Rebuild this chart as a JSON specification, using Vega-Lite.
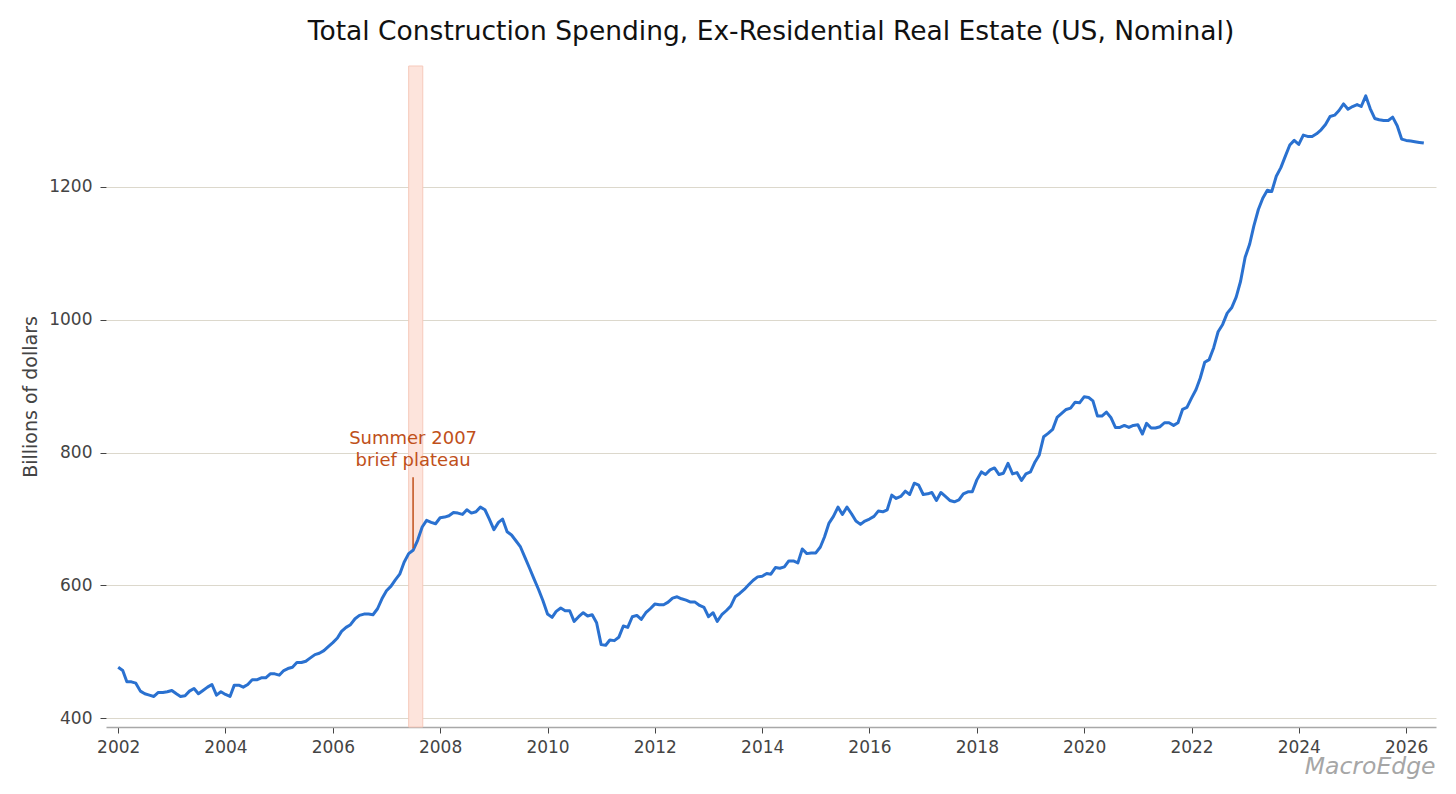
{
  "$schema": "https://vega.github.io/schema/vega-lite/v6.json",
  "description": "Total construction spending excluding residential real estate, US nominal, monthly 2002-2026.",
  "width": 1330,
  "height": 661,
  "autosize": {"type": "none"},
  "padding": {"left": 106, "top": 66, "right": 20, "bottom": 67},
  "background": "white",
  "title": {
    "text": "Total Construction Spending, Ex-Residential Real Estate (US, Nominal)",
    "fontSize": 26.5,
    "fontWeight": "normal",
    "color": "#111111",
    "anchor": "middle",
    "offset": 20
  },
  "datasets": {
    "spending": [
      {"date": "2002-01-01", "value": 477}, {"date": "2002-02-01", "value": 472}, {"date": "2002-03-01", "value": 455}, {"date": "2002-04-01", "value": 455},
      {"date": "2002-05-01", "value": 453}, {"date": "2002-06-01", "value": 441}, {"date": "2002-07-01", "value": 437}, {"date": "2002-08-01", "value": 435},
      {"date": "2002-09-01", "value": 433}, {"date": "2002-10-01", "value": 439}, {"date": "2002-11-01", "value": 439}, {"date": "2002-12-01", "value": 440},
      {"date": "2003-01-01", "value": 442}, {"date": "2003-02-01", "value": 437}, {"date": "2003-03-01", "value": 433}, {"date": "2003-04-01", "value": 434},
      {"date": "2003-05-01", "value": 441}, {"date": "2003-06-01", "value": 445}, {"date": "2003-07-01", "value": 437}, {"date": "2003-08-01", "value": 442},
      {"date": "2003-09-01", "value": 447}, {"date": "2003-10-01", "value": 451}, {"date": "2003-11-01", "value": 435}, {"date": "2003-12-01", "value": 440},
      {"date": "2004-01-01", "value": 436}, {"date": "2004-02-01", "value": 433}, {"date": "2004-03-01", "value": 450}, {"date": "2004-04-01", "value": 450},
      {"date": "2004-05-01", "value": 447}, {"date": "2004-06-01", "value": 451}, {"date": "2004-07-01", "value": 458}, {"date": "2004-08-01", "value": 458},
      {"date": "2004-09-01", "value": 461}, {"date": "2004-10-01", "value": 461}, {"date": "2004-11-01", "value": 467}, {"date": "2004-12-01", "value": 467},
      {"date": "2005-01-01", "value": 465}, {"date": "2005-02-01", "value": 472}, {"date": "2005-03-01", "value": 475}, {"date": "2005-04-01", "value": 477},
      {"date": "2005-05-01", "value": 484}, {"date": "2005-06-01", "value": 484}, {"date": "2005-07-01", "value": 486}, {"date": "2005-08-01", "value": 491},
      {"date": "2005-09-01", "value": 496}, {"date": "2005-10-01", "value": 498}, {"date": "2005-11-01", "value": 502}, {"date": "2005-12-01", "value": 508},
      {"date": "2006-01-01", "value": 514}, {"date": "2006-02-01", "value": 521}, {"date": "2006-03-01", "value": 531}, {"date": "2006-04-01", "value": 537},
      {"date": "2006-05-01", "value": 541}, {"date": "2006-06-01", "value": 550}, {"date": "2006-07-01", "value": 555}, {"date": "2006-08-01", "value": 557},
      {"date": "2006-09-01", "value": 557}, {"date": "2006-10-01", "value": 556}, {"date": "2006-11-01", "value": 565}, {"date": "2006-12-01", "value": 580},
      {"date": "2007-01-01", "value": 592}, {"date": "2007-02-01", "value": 599}, {"date": "2007-03-01", "value": 608}, {"date": "2007-04-01", "value": 617},
      {"date": "2007-05-01", "value": 635}, {"date": "2007-06-01", "value": 648}, {"date": "2007-07-01", "value": 653}, {"date": "2007-08-01", "value": 668},
      {"date": "2007-09-01", "value": 688}, {"date": "2007-10-01", "value": 698}, {"date": "2007-11-01", "value": 695}, {"date": "2007-12-01", "value": 693},
      {"date": "2008-01-01", "value": 702}, {"date": "2008-02-01", "value": 703}, {"date": "2008-03-01", "value": 705}, {"date": "2008-04-01", "value": 710},
      {"date": "2008-05-01", "value": 709}, {"date": "2008-06-01", "value": 707}, {"date": "2008-07-01", "value": 714}, {"date": "2008-08-01", "value": 709},
      {"date": "2008-09-01", "value": 711}, {"date": "2008-10-01", "value": 718}, {"date": "2008-11-01", "value": 714}, {"date": "2008-12-01", "value": 700},
      {"date": "2009-01-01", "value": 684}, {"date": "2009-02-01", "value": 695}, {"date": "2009-03-01", "value": 700}, {"date": "2009-04-01", "value": 681},
      {"date": "2009-05-01", "value": 676}, {"date": "2009-06-01", "value": 667}, {"date": "2009-07-01", "value": 658}, {"date": "2009-08-01", "value": 642},
      {"date": "2009-09-01", "value": 626}, {"date": "2009-10-01", "value": 610}, {"date": "2009-11-01", "value": 594}, {"date": "2009-12-01", "value": 577},
      {"date": "2010-01-01", "value": 557}, {"date": "2010-02-01", "value": 552}, {"date": "2010-03-01", "value": 561}, {"date": "2010-04-01", "value": 566},
      {"date": "2010-05-01", "value": 562}, {"date": "2010-06-01", "value": 562}, {"date": "2010-07-01", "value": 546}, {"date": "2010-08-01", "value": 553},
      {"date": "2010-09-01", "value": 559}, {"date": "2010-10-01", "value": 554}, {"date": "2010-11-01", "value": 556}, {"date": "2010-12-01", "value": 544},
      {"date": "2011-01-01", "value": 511}, {"date": "2011-02-01", "value": 510}, {"date": "2011-03-01", "value": 518}, {"date": "2011-04-01", "value": 517},
      {"date": "2011-05-01", "value": 522}, {"date": "2011-06-01", "value": 539}, {"date": "2011-07-01", "value": 537}, {"date": "2011-08-01", "value": 553},
      {"date": "2011-09-01", "value": 555}, {"date": "2011-10-01", "value": 549}, {"date": "2011-11-01", "value": 559}, {"date": "2011-12-01", "value": 565},
      {"date": "2012-01-01", "value": 572}, {"date": "2012-02-01", "value": 571}, {"date": "2012-03-01", "value": 571}, {"date": "2012-04-01", "value": 575},
      {"date": "2012-05-01", "value": 581}, {"date": "2012-06-01", "value": 583}, {"date": "2012-07-01", "value": 580}, {"date": "2012-08-01", "value": 578},
      {"date": "2012-09-01", "value": 575}, {"date": "2012-10-01", "value": 575}, {"date": "2012-11-01", "value": 570}, {"date": "2012-12-01", "value": 567},
      {"date": "2013-01-01", "value": 553}, {"date": "2013-02-01", "value": 559}, {"date": "2013-03-01", "value": 546}, {"date": "2013-04-01", "value": 556},
      {"date": "2013-05-01", "value": 562}, {"date": "2013-06-01", "value": 569}, {"date": "2013-07-01", "value": 583}, {"date": "2013-08-01", "value": 588},
      {"date": "2013-09-01", "value": 594}, {"date": "2013-10-01", "value": 601}, {"date": "2013-11-01", "value": 608}, {"date": "2013-12-01", "value": 613},
      {"date": "2014-01-01", "value": 614}, {"date": "2014-02-01", "value": 618}, {"date": "2014-03-01", "value": 617}, {"date": "2014-04-01", "value": 627},
      {"date": "2014-05-01", "value": 626}, {"date": "2014-06-01", "value": 628}, {"date": "2014-07-01", "value": 637}, {"date": "2014-08-01", "value": 637},
      {"date": "2014-09-01", "value": 634}, {"date": "2014-10-01", "value": 655}, {"date": "2014-11-01", "value": 648}, {"date": "2014-12-01", "value": 649},
      {"date": "2015-01-01", "value": 649}, {"date": "2015-02-01", "value": 658}, {"date": "2015-03-01", "value": 673}, {"date": "2015-04-01", "value": 694},
      {"date": "2015-05-01", "value": 704}, {"date": "2015-06-01", "value": 718}, {"date": "2015-07-01", "value": 707}, {"date": "2015-08-01", "value": 718},
      {"date": "2015-09-01", "value": 708}, {"date": "2015-10-01", "value": 697}, {"date": "2015-11-01", "value": 692}, {"date": "2015-12-01", "value": 697},
      {"date": "2016-01-01", "value": 700}, {"date": "2016-02-01", "value": 704}, {"date": "2016-03-01", "value": 712}, {"date": "2016-04-01", "value": 711},
      {"date": "2016-05-01", "value": 714}, {"date": "2016-06-01", "value": 736}, {"date": "2016-07-01", "value": 731}, {"date": "2016-08-01", "value": 734},
      {"date": "2016-09-01", "value": 742}, {"date": "2016-10-01", "value": 737}, {"date": "2016-11-01", "value": 754}, {"date": "2016-12-01", "value": 751},
      {"date": "2017-01-01", "value": 737}, {"date": "2017-02-01", "value": 738}, {"date": "2017-03-01", "value": 740}, {"date": "2017-04-01", "value": 728},
      {"date": "2017-05-01", "value": 740}, {"date": "2017-06-01", "value": 734}, {"date": "2017-07-01", "value": 728}, {"date": "2017-08-01", "value": 726},
      {"date": "2017-09-01", "value": 729}, {"date": "2017-10-01", "value": 738}, {"date": "2017-11-01", "value": 741}, {"date": "2017-12-01", "value": 741},
      {"date": "2018-01-01", "value": 759}, {"date": "2018-02-01", "value": 771}, {"date": "2018-03-01", "value": 767}, {"date": "2018-04-01", "value": 774},
      {"date": "2018-05-01", "value": 777}, {"date": "2018-06-01", "value": 767}, {"date": "2018-07-01", "value": 769}, {"date": "2018-08-01", "value": 784},
      {"date": "2018-09-01", "value": 768}, {"date": "2018-10-01", "value": 770}, {"date": "2018-11-01", "value": 758}, {"date": "2018-12-01", "value": 768},
      {"date": "2019-01-01", "value": 771}, {"date": "2019-02-01", "value": 786}, {"date": "2019-03-01", "value": 796}, {"date": "2019-04-01", "value": 824},
      {"date": "2019-05-01", "value": 829}, {"date": "2019-06-01", "value": 835}, {"date": "2019-07-01", "value": 853}, {"date": "2019-08-01", "value": 859},
      {"date": "2019-09-01", "value": 865}, {"date": "2019-10-01", "value": 867}, {"date": "2019-11-01", "value": 876}, {"date": "2019-12-01", "value": 875},
      {"date": "2020-01-01", "value": 884}, {"date": "2020-02-01", "value": 883}, {"date": "2020-03-01", "value": 878}, {"date": "2020-04-01", "value": 855},
      {"date": "2020-05-01", "value": 855}, {"date": "2020-06-01", "value": 861}, {"date": "2020-07-01", "value": 853}, {"date": "2020-08-01", "value": 838},
      {"date": "2020-09-01", "value": 838}, {"date": "2020-10-01", "value": 841}, {"date": "2020-11-01", "value": 838}, {"date": "2020-12-01", "value": 841},
      {"date": "2021-01-01", "value": 842}, {"date": "2021-02-01", "value": 828}, {"date": "2021-03-01", "value": 844}, {"date": "2021-04-01", "value": 837},
      {"date": "2021-05-01", "value": 837}, {"date": "2021-06-01", "value": 839}, {"date": "2021-07-01", "value": 845}, {"date": "2021-08-01", "value": 845},
      {"date": "2021-09-01", "value": 841}, {"date": "2021-10-01", "value": 845}, {"date": "2021-11-01", "value": 865}, {"date": "2021-12-01", "value": 868},
      {"date": "2022-01-01", "value": 882}, {"date": "2022-02-01", "value": 895}, {"date": "2022-03-01", "value": 912}, {"date": "2022-04-01", "value": 936},
      {"date": "2022-05-01", "value": 940}, {"date": "2022-06-01", "value": 958}, {"date": "2022-07-01", "value": 982}, {"date": "2022-08-01", "value": 993},
      {"date": "2022-09-01", "value": 1010}, {"date": "2022-10-01", "value": 1018}, {"date": "2022-11-01", "value": 1034}, {"date": "2022-12-01", "value": 1058},
      {"date": "2023-01-01", "value": 1094}, {"date": "2023-02-01", "value": 1114}, {"date": "2023-03-01", "value": 1141}, {"date": "2023-04-01", "value": 1166},
      {"date": "2023-05-01", "value": 1183}, {"date": "2023-06-01", "value": 1195}, {"date": "2023-07-01", "value": 1193}, {"date": "2023-08-01", "value": 1216},
      {"date": "2023-09-01", "value": 1229}, {"date": "2023-10-01", "value": 1246}, {"date": "2023-11-01", "value": 1263}, {"date": "2023-12-01", "value": 1270},
      {"date": "2024-01-01", "value": 1264}, {"date": "2024-02-01", "value": 1278}, {"date": "2024-03-01", "value": 1276}, {"date": "2024-04-01", "value": 1276},
      {"date": "2024-05-01", "value": 1280}, {"date": "2024-06-01", "value": 1286}, {"date": "2024-07-01", "value": 1294}, {"date": "2024-08-01", "value": 1306},
      {"date": "2024-09-01", "value": 1308}, {"date": "2024-10-01", "value": 1315}, {"date": "2024-11-01", "value": 1325}, {"date": "2024-12-01", "value": 1317},
      {"date": "2025-01-01", "value": 1321}, {"date": "2025-02-01", "value": 1324}, {"date": "2025-03-01", "value": 1321}, {"date": "2025-04-01", "value": 1337},
      {"date": "2025-05-01", "value": 1318}, {"date": "2025-06-01", "value": 1303}, {"date": "2025-07-01", "value": 1301}, {"date": "2025-08-01", "value": 1300},
      {"date": "2025-09-01", "value": 1300}, {"date": "2025-10-01", "value": 1305}, {"date": "2025-11-01", "value": 1292}, {"date": "2025-12-01", "value": 1272},
      {"date": "2026-01-01", "value": 1270}, {"date": "2026-02-01", "value": 1269}, {"date": "2026-03-01", "value": 1268}, {"date": "2026-04-01", "value": 1267},
      {"date": "2026-05-01", "value": 1266}
    ],
    "band": [
      {"start": "2007-06-01", "end": "2007-09-05"}
    ],
    "note": [
      {"date": "2007-07-01", "from": 656, "to": 763, "label": ["Summer 2007", "brief plateau"], "labelAt": 820}
    ]
  },
  "layer": [
    {
      "data": {"name": "band"},
      "mark": {"type": "rect", "fill": "#fde4dc", "stroke": "#f6c9bb", "strokeWidth": 1},
      "encoding": {
        "x": {"field": "start", "type": "temporal"},
        "x2": {"field": "end"}
      }
    },
    {
      "data": {"name": "spending"},
      "mark": {"type": "line", "color": "#2a71d0", "strokeWidth": 3, "strokeJoin": "round"},
      "encoding": {
        "x": {
          "field": "date",
          "type": "temporal",
          "scale": {"domain": [{"year": 2001, "month": 10, "date": 10}, {"year": 2026, "month": 7, "date": 23}], "nice": false},
          "axis": {
            "title": null,
            "format": "%Y",
            "tickCount": {"interval": "year", "step": 2},
            "grid": false,
            "domainColor": "#a8a8a8",
            "domainWidth": 1.5,
            "labelPadding": 6,
            "labelFlush": false,
            "labelOverlap": false
          }
        },
        "y": {
          "field": "value",
          "type": "quantitative",
          "scale": {"domain": [387, 1382], "nice": false, "zero": false},
          "axis": {
            "title": "Billions of dollars",
            "titleFontSize": 19,
            "values": [400, 600, 800, 1000, 1200],
            "format": "d",
            "domain": false,
            "gridColor": "#dcd8cc",
            "gridWidth": 1,
            "labelPadding": 8,
            "titlePadding": 8
          }
        }
      }
    },
    {
      "data": {"name": "note"},
      "mark": {"type": "rule", "color": "#c0501a", "strokeWidth": 1.5},
      "encoding": {
        "x": {"field": "date", "type": "temporal"},
        "y": {"field": "from", "type": "quantitative"},
        "y2": {"field": "to"}
      }
    },
    {
      "data": {"name": "note"},
      "mark": {"type": "text", "color": "#c0501a", "fontSize": 18, "align": "center", "baseline": "middle", "lineHeight": 22},
      "encoding": {
        "x": {"field": "date", "type": "temporal"},
        "y": {"field": "labelAt", "type": "quantitative"},
        "text": {"field": "label"}
      }
    },
    {
      "data": {"values": [{"mark": "MacroEdge"}]},
      "mark": {"type": "text", "color": "#a6a6a6", "fontSize": 23.5, "fontStyle": "italic", "align": "right", "baseline": "middle", "dy": 40},
      "encoding": {
        "x": {"datum": {"year": 2026, "month": 7, "date": 20}, "type": "temporal"},
        "y": {"datum": 387, "type": "quantitative"},
        "text": {"field": "mark"}
      }
    }
  ],
  "config": {
    "font": "DejaVu Sans",
    "view": {"stroke": null},
    "axis": {
      "labelFont": "DejaVu Sans",
      "labelFontSize": 17,
      "labelColor": "#444444",
      "titleFont": "DejaVu Sans",
      "titleFontSize": 17,
      "titleFontWeight": "normal",
      "titleColor": "#444444",
      "tickColor": "#444444",
      "tickSize": 6
    }
  }
}
